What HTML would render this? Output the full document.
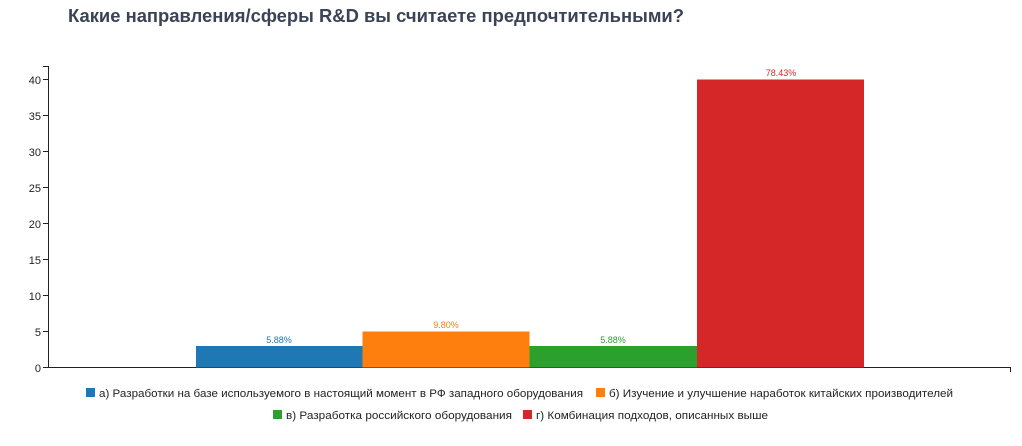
<!DOCTYPE html>
<html><head><meta charset="utf-8"><style>
body{margin:0;background:#fff;width:1022px;height:441px;overflow:hidden}
</style></head><body>
<svg width="1022" height="441" xmlns="http://www.w3.org/2000/svg" font-family="Liberation Sans, DejaVu Sans, sans-serif">
<text x="68" y="22" font-size="18.5" font-weight="bold" fill="#3a4456" textLength="616" lengthAdjust="spacingAndGlyphs">Какие направления/сферы R&amp;D вы считаете предпочтительными?</text>
<g fill="#222" font-size="11" text-anchor="end">
<text x="41" y="372">0</text><text x="41" y="336">5</text><text x="41" y="300">10</text><text x="41" y="264">15</text><text x="41" y="228">20</text><text x="41" y="192">25</text><text x="41" y="156">30</text><text x="41" y="120">35</text><text x="41" y="84">40</text>
</g>
<g stroke="#222" stroke-width="1" fill="none">
<path d="M43 66.5H48.5V367.5H1010.5V372"/>
<path d="M43 367.5h5M43 331.5h5M43 295.5h5M43 259.5h5M43 223.5h5M43 187.5h5M43 151.5h5M43 115.5h5M43 79.5h5"/>
</g>
<rect x="196" y="346" width="166.5" height="21.5" fill="#1f77b4"/>
<rect x="362.5" y="331.5" width="167" height="36" fill="#ff7f0e"/>
<rect x="529.5" y="346" width="167.5" height="21.5" fill="#2ca02c"/>
<rect x="697" y="79.5" width="167" height="288" fill="#d62728"/>
<g font-size="9" text-anchor="middle">
<text x="279" y="343" fill="#1f77b4">5.88%</text>
<text x="446" y="328" fill="#ff7f0e">9.80%</text>
<text x="613" y="343" fill="#2ca02c">5.88%</text>
<text x="781" y="76" fill="#d62728">78.43%</text>
</g>
<g font-size="11" fill="#222">
<rect x="86" y="388" width="9" height="9" fill="#1f77b4"/><text x="99" y="397" textLength="484" lengthAdjust="spacingAndGlyphs">а) Разработки на базе используемого в настоящий момент в РФ западного оборудования</text>
<rect x="596" y="388" width="9" height="9" fill="#ff7f0e"/><text x="609" y="397" textLength="344" lengthAdjust="spacingAndGlyphs">б) Изучение и улучшение наработок китайских производителей</text>
<rect x="273" y="410" width="9" height="9" fill="#2ca02c"/><text x="286" y="419" textLength="226" lengthAdjust="spacingAndGlyphs">в) Разработка российского оборудования</text>
<rect x="523" y="410" width="9" height="9" fill="#d62728"/><text x="536" y="419" textLength="232" lengthAdjust="spacingAndGlyphs">г) Комбинация подходов, описанных выше</text>
</g>
</svg>
</body></html>
